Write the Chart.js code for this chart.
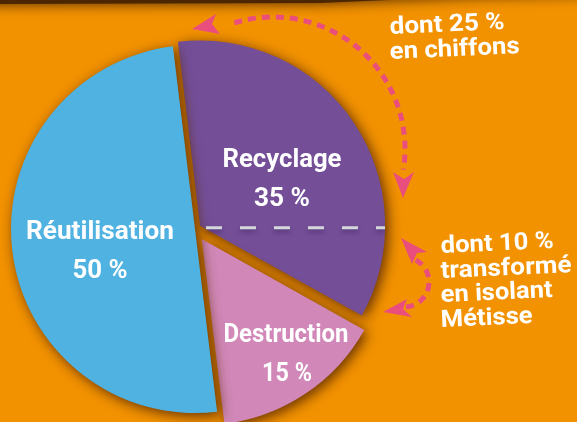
<!DOCTYPE html>
<html><head><meta charset="utf-8">
<script src="https://cdn.jsdelivr.net/npm/chart.js@4/dist/chart.umd.min.js"></script>
<style>html,body{margin:0;padding:0;background:#F39200;overflow:hidden}canvas{display:block}</style>
</head><body>
<div style="width:577px;height:422px;position:relative"><canvas id="c" width="577" height="422"></canvas></div>
<script>
// ---- data ----
const categories = ['Recyclage', 'Destruction', 'Réutilisation'];
const shares = [35, 15, 50];
const valueLabels = ['35 %', '15 %', '50 %'];
const recyclingDetail = ['dont 25 %', 'en chiffons'];
const insulationDetail = ['dont 10 %', 'transformé', 'en isolant', 'Métisse'];
const sliceColors = ['#744F98', '#D188B8', '#4FB2E0'];
const sliceOffsets = [24, 48, 0];

const ORANGE = '#F39200';
const ARROW = '#E94E7D';
const D = Math.PI / 180;

function txt(ctx, s, x, y, size, w, align, rot) {
  ctx.save();
  ctx.font = 'bold ' + size + 'px Roboto';
  const m = ctx.measureText(s).width;
  const sx = w ? w / m : 1;
  ctx.translate(x, y);
  if (rot) ctx.rotate(rot);
  ctx.scale(sx, 1);
  ctx.textAlign = align || 'center';
  ctx.textBaseline = 'alphabetic';
  ctx.fillStyle = '#ffffff';
  ctx.fillText(s, 0, 0);
  ctx.restore();
}

function poly(ctx, pts, color) {
  ctx.beginPath();
  ctx.moveTo(pts[0][0], pts[0][1]);
  for (let i = 1; i < pts.length; i++) ctx.lineTo(pts[i][0], pts[i][1]);
  ctx.closePath();
  ctx.fillStyle = color;
  ctx.fill();
}

const background = {
  id: 'background',
  beforeDraw(chart) {
    const ctx = chart.ctx;
    ctx.save();
    ctx.fillStyle = ORANGE;
    ctx.fillRect(0, 0, chart.width, chart.height);
    // dark band at the top edge
    ctx.shadowColor = 'rgba(75,38,0,1)';
    ctx.shadowBlur = 14;
    ctx.fillStyle = 'rgba(75,38,0,1)';
    ctx.beginPath();
    ctx.moveTo(-40, -80); ctx.lineTo(640, -80); ctx.lineTo(640, -7);
    ctx.lineTo(480, -4); ctx.lineTo(320, 3); ctx.lineTo(0, 4);
    ctx.lineTo(-40, 4); ctx.closePath();
    ctx.fill();
    ctx.restore();
  }
};

const shadow = {
  id: 'sliceShadow',
  beforeDatasetsDraw(chart) {
    const ctx = chart.ctx;
    ctx.save();
    ctx.shadowColor = 'rgba(90,42,0,0.95)';
    ctx.shadowBlur = 13;
    ctx.shadowOffsetX = 3;
    ctx.shadowOffsetY = 3;
  },
  afterDatasetsDraw(chart) {
    chart.ctx.restore();
  }
};

const annotations = {
  id: 'annotations',
  afterDatasetsDraw(chart) {
    const ctx = chart.ctx;
    const meta = chart.getDatasetMeta(0);
    const p = meta.data[0];
    const cx = p.x, cy = p.y;
    // split line inside "Recyclage"
    const half = (p.startAngle + p.endAngle) / 2;
    const t = sliceOffsets[0] / 4;
    const px = cx + Math.cos(half) * t, py = cy + Math.sin(half) * t;
    ctx.save();
    ctx.strokeStyle = '#D3D8DA';
    ctx.lineWidth = 3;
    ctx.setLineDash([16, 18]);
    ctx.shadowColor = 'rgba(50,20,70,0.45)';
    ctx.shadowBlur = 4;
    ctx.shadowOffsetY = 3;
    ctx.beginPath();
    ctx.moveTo(px + 6, py + 2);
    ctx.lineTo(px + p.outerRadius + 1, py + 2);
    ctx.stroke();
    ctx.restore();

    // slice labels
    txt(ctx, categories[0], cx + 87, cy - 62, 25, 119);
    txt(ctx, valueLabels[0], cx + 87, cy - 23, 25, 56);
    txt(ctx, categories[1], cx + 91, cy + 113, 25, 125);
    txt(ctx, valueLabels[1], cx + 92, cy + 152, 25, 50);
    txt(ctx, categories[2], cx - 95, cy + 10, 26, 148);
    txt(ctx, valueLabels[2], cx - 95, cy + 49, 26, 55);

    // dashed arrows
    ctx.save();
    ctx.strokeStyle = ARROW;
    ctx.lineWidth = 5;
    ctx.setLineDash([8, 6]);
    ctx.beginPath();
    ctx.arc(cx + 78, cy - 80, 132, -107 * D, 9 * D);
    ctx.stroke();
    ctx.beginPath();
    ctx.arc(cx + 209, cy + 53, 25, -62 * D, 86 * D);
    ctx.stroke();
    ctx.restore();
    ctx.save();
    poly(ctx, [[cx - 3, cy - 200], [cx + 21, cy - 215], [cx + 17, cy - 205], [cx + 25, cy - 195]], ARROW);
    poly(ctx, [[cx + 208, cy - 31], [cx + 198, cy - 57], [cx + 209, cy - 50], [cx + 219, cy - 57]], ARROW);
    poly(ctx, [[cx + 206, cy + 9], [cx + 232, cy + 23], [cx + 222, cy + 24], [cx + 217, cy + 35]], ARROW);
    poly(ctx, [[cx + 188, cy + 83], [cx + 212, cy + 70], [cx + 208, cy + 80], [cx + 217, cy + 88]], ARROW);
    ctx.restore();

    // side texts
    const rot = -2.6 * D;
    txt(ctx, recyclingDetail[0], cx + 195, cy - 195, 24, 115, 'left', rot);
    txt(ctx, recyclingDetail[1], cx + 195, cy - 170, 24, 130, 'left', rot);
    const ys = [253, 278, 302, 327];
    const ws = [113, 131, 112, 92];
    insulationDetail.forEach((s, i) => txt(ctx, s, cx + 246, cy + (ys[i] - 229), 24, ws[i], 'left', rot));
  }
};

new Chart(document.getElementById('c'), {
  type: 'pie',
  data: {
    labels: categories,
    datasets: [{
      data: shares,
      backgroundColor: sliceColors,
      borderWidth: 0,
      offset: sliceOffsets
    }]
  },
  options: {
    responsive: false,
    animation: false,
    devicePixelRatio: 1,
    rotation: -6.9,
    radius: 184,
    layout: { padding: { left: 0, right: 187, top: 36, bottom: 0 } },
    plugins: { legend: { display: false }, tooltip: { enabled: false } },
    events: []
  },
  plugins: [background, shadow, annotations]
});
</script>
</body></html>
